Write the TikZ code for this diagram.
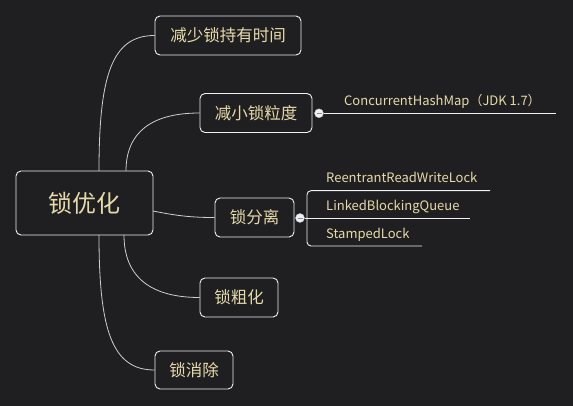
\documentclass[tikz,border=0pt]{standalone}
\usepackage{fontspec}
\setmainfont{Noto Sans CJK SC}
\definecolor{bg}{HTML}{1F1F21}
\definecolor{txt}{HTML}{E6DAAA}
\definecolor{linec}{HTML}{CFCFCF}
\definecolor{boxc}{HTML}{F0F0F0}
\definecolor{minusc}{HTML}{7F8AA8}
\begin{document}
\begin{tikzpicture}[x=1pt,y=-1pt,
  box/.style={draw=boxc, line width=0.9pt, rounded corners=5pt, text=txt, inner sep=0pt},
  sub/.style={box, minimum height=39pt, font=\fontsize{16.5}{20}\selectfont},
  link/.style={draw=linec, line width=0.8pt},
  rail/.style={draw=boxc, line width=0.9pt},
  lbl/.style={text=txt, font=\fontsize{13}{15}\selectfont, anchor=base west, inner sep=0pt},
  knob/.style={circle, fill=boxc, draw=minusc!60!white, line width=0.4pt, minimum size=9pt, inner sep=0pt},
]
\fill[bg] (0,0) rectangle (573,406);
\useasboundingbox (0,0) rectangle (573,406);

\node[box, minimum width=137pt, minimum height=64pt, font=\fontsize{24}{28}\selectfont] (root) at (84.5,203) {锁优化};
\node[sub, minimum width=146pt] (n1) at (228,35.5) {减少锁持有时间};
\node[sub, minimum width=112pt] (n2) at (256,113) {减小锁粒度};
\node[sub, minimum width=79pt] (n3) at (254.5,217.5) {锁分离};
\node[sub, minimum width=78pt] (n4) at (239,297.5) {锁粗化};
\node[sub, minimum width=78pt, minimum height=38pt] (n5) at (194,370) {锁消除};

\coordinate (r1) at (99,171);
\coordinate (r2) at (126,171);
\coordinate (r3) at (153,211);
\coordinate (r4) at (124,235);
\coordinate (r5) at (99,235);

\draw[link] (r1) .. controls (99,75) and (112,35.5) .. (n1.west);
\draw[link] (r2) .. controls (126,132) and (152,113) .. (n2.west);
\draw[link] (r3) .. controls (178,216) and (192,217.5) .. (n3.west);
\draw[link] (r4) .. controls (124,278) and (152,297.5) .. (n4.west);
\draw[link] (r5) .. controls (99,330) and (112,370) .. (n5.west);

% ConcurrentHashMap branch
\node[knob] (c2) at (319,113.3) {};
\coordinate (e2) at (556,113.3);
\draw[rail] (c2.east) -- (e2);
\draw[minusc, line width=0.8pt] ([xshift=-2.5pt]c2.center) -- ([xshift=2.5pt]c2.center);
\node[lbl] (l2) at (344,106) {ConcurrentHashMap（JDK 1.7）};

% lock split branch
\node[knob] (c3) at (300,218) {};
\coordinate (t3) at (490,190.7);
\coordinate (m3) at (470,218);
\coordinate (b3) at (422,246);
\draw[rail, rounded corners=4pt] (t3) -- (307,190.7) -- (307,246) -- (b3);
\draw[rail] (c3.east) -- (m3);
\draw[minusc, line width=0.8pt] ([xshift=-2.5pt]c3.center) -- ([xshift=2.5pt]c3.center);
\node[lbl] (l3a) at (326,182.7) {ReentrantReadWriteLock};
\node[lbl] (l3b) at (326,210.7) {LinkedBlockingQueue};
\node[lbl] (l3c) at (326,238.7) {StampedLock};
\end{tikzpicture}
\end{document}
